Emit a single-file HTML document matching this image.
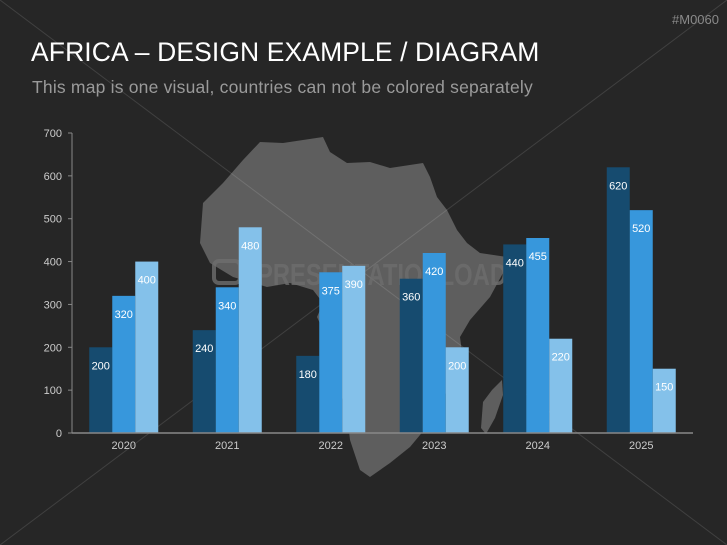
<!DOCTYPE html>
<html><head><meta charset="utf-8"><style>
body{margin:0;background:#262626;}
#wrap{position:relative;width:727px;height:545px;background:#262626;overflow:hidden;font-family:"Liberation Sans",sans-serif;}
.t{position:absolute;white-space:nowrap;}
</style></head><body>
<div id="wrap">
<svg id="chart" width="727" height="545" style="position:absolute;left:0;top:0"></svg>
<div class="t" style="right:8px;top:12px;color:#8a8a8a;font-size:13px;">#M0060</div>
<div class="t" style="left:31px;top:37px;color:#fff;font-size:26.5px;letter-spacing:0.1px;">AFRICA – DESIGN EXAMPLE / DIAGRAM</div>
<div class="t" style="left:32px;top:77px;color:#9a9a9a;font-size:17.5px;letter-spacing:0.2px;">This map is one visual, countries can not be colored separately</div>
</div>
<script>
const categories=["2020","2021","2022","2023","2024","2025"];
const series1=[200,240,180,360,440,620];
const series2=[320,340,375,420,455,520];
const series3=[400,480,390,200,220,150];
const yTicks=[0,100,200,300,400,500,600,700];
const colors=["#164b6f","#3797dc","#84c1ea"];
const NS="http://www.w3.org/2000/svg";
const svg=document.getElementById('chart');
const x0=72,x1=693,yb=433,yt=133,ymax=700;
const y=v=>yb-(v/ymax)*(yb-yt);
const band=(x1-x0)/categories.length;
const cx=i=>x0+band*(i+0.5);
const bw=23;
function mk(t,a){const e=document.createElementNS(NS,t);for(const k in a)e.setAttribute(k,a[k]);svg.appendChild(e);return e;}
// africa map
let m=mk('polygon',{points:"260,142 283,143 323,137 330,152 347,163 370,162 390,168 423,163 430,177 437,197 447,210 457,230 467,243 480,253 507,257 503,273 490,297 470,320 460,337 463,360 457,380 443,397 430,423 410,447 390,463 370,477 360,470 350,440 347,413 337,383 330,357 323,330 317,317 323,303 313,290 290,283 267,287 233,277 210,263 200,243 203,203 223,183 243,160",fill:'#5e5e5e'});


m=mk('polygon',{points:"502,380 503,395 495,418 486,434 481,428 483,402 492,390",fill:'#5e5e5e'});


// watermark lines
let l=mk('line',{x1:0,y1:0,x2:727,y2:545,stroke:'#fff','stroke-opacity':0.12,'stroke-width':1});


l=mk('line',{x1:727,y1:0,x2:0,y2:545,stroke:'#fff','stroke-opacity':0.12,'stroke-width':1});


let logo=mk('rect',{x:214,y:261,width:26,height:22,rx:5,fill:'none',stroke:'#6e6e6e','stroke-width':4,opacity:0.8});


let wm=mk('text',{x:257,y:285,fill:'#6e6e6e','font-size':31,'font-weight':'bold','font-family':'Liberation Sans, sans-serif',opacity:0.8,textLength:250,lengthAdjust:'spacingAndGlyphs'});
wm.textContent='PRESENTATIONLOAD';


// axes
let ax=mk('line',{x1:x0,y1:yt,x2:x0,y2:yb,stroke:'#888','stroke-width':1});


yTicks.forEach(v=>{
 const tk=mk('line',{x1:x0-4,y1:y(v),x2:x0,y2:y(v),stroke:'#888'});
 
 
 const t=mk('text',{x:x0-10,y:y(v)+4,fill:'#ccc','font-size':11,'text-anchor':'end'});
 t.textContent=v;
 
 
});
const all=[series1,series2,series3];
categories.forEach((c,i)=>{
 all.forEach((s,j)=>{
  const bx=cx(i)-bw*1.5+j*bw;
  const r=mk('rect',{x:bx,y:y(s[i]),width:bw,height:yb-y(s[i]),fill:colors[j]});
  
  
  const t=mk('text',{x:bx+bw/2,y:y(s[i])+22,fill:'#fff','font-size':11,'text-anchor':'middle'});
  t.textContent=s[i];
  
  
 });
 const t=mk('text',{x:cx(i),y:yb+16,fill:'#ccc','font-size':11,'text-anchor':'middle'});
 t.textContent=c;
 
 
});
ax=mk('line',{x1:x0,y1:yb,x2:x1,y2:yb,stroke:'#888','stroke-width':1.5});


</script>
</body></html>
